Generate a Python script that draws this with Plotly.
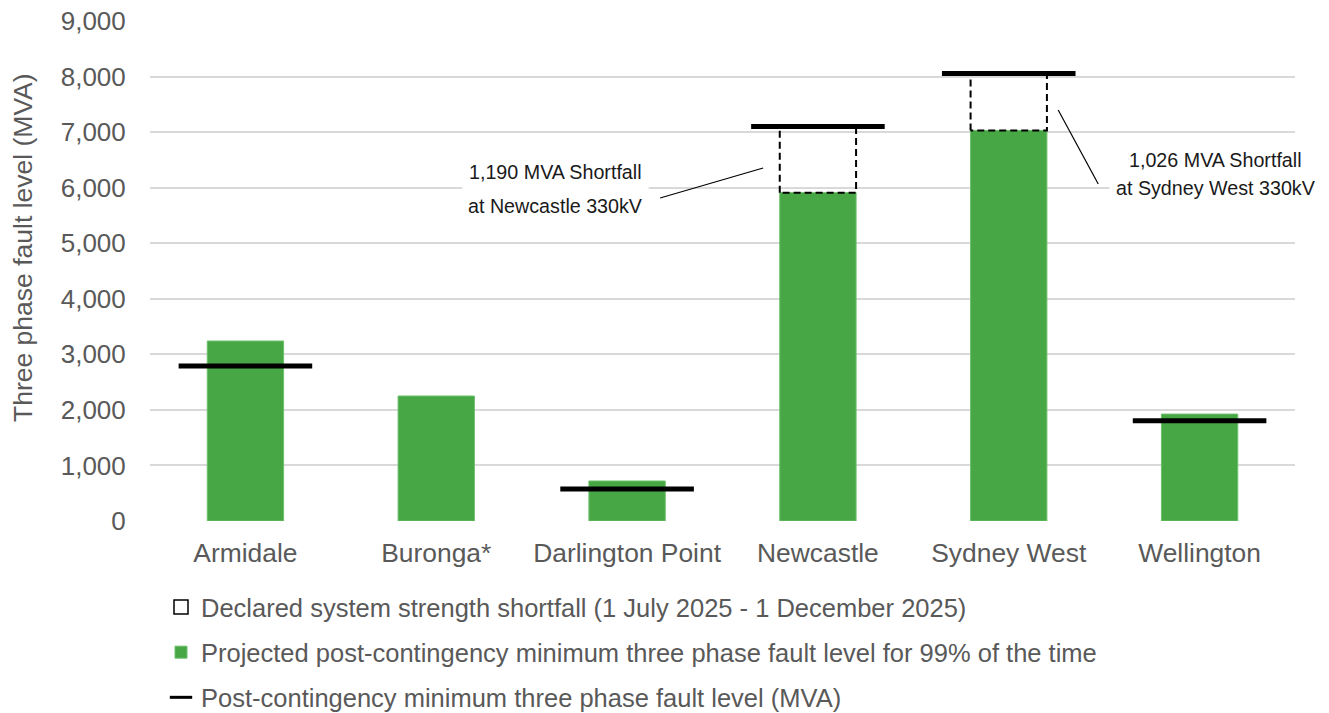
import plotly.graph_objects as go

# Sites and fault levels (MVA)
categories = ["Armidale", "Buronga*", "Darlington Point", "Newcastle", "Sydney West", "Wellington"]
projected_99 = [3240, 2250, 720, 5910, 7030, 1925]
post_contingency_min = [2790, None, 575, 7100, 8056, 1805]
shortfall = [None, None, None, 1190, 1026, None]

callouts = [
    # (site index, line 1, line 2)
    (3, "1,190 MVA Shortfall", "at Newcastle 330kV"),
    (4, "1,026 MVA Shortfall", "at Sydney West 330kV"),
]

y_title = "Three phase fault level (MVA)"

GREEN = "#47a745"
GREY_TEXT = "#595959"
GRID = "#d9d9d9"
FONT = "Arial, Liberation Sans, sans-serif"

BAR_W = 0.4
LINE_HALF = 0.35

xs = list(range(len(categories)))

fig = go.Figure()

# Projected post-contingency minimum fault level bars
fig.add_trace(go.Bar(
    x=xs, y=projected_99, width=BAR_W,
    marker=dict(color=GREEN, line=dict(color="#6cc06a", width=1)),
    name="Projected post-contingency minimum three phase fault level for 99% of the time",
    legendrank=2, legendgroup="g2",
))

# Dashed outline of the declared shortfall above each affected bar
box_x, box_y = [], []
for i, (b, s) in enumerate(zip(projected_99, shortfall)):
    if s is None:
        continue
    top = b + s
    box_x += [i - BAR_W / 2, i - BAR_W / 2, i + BAR_W / 2, i + BAR_W / 2, i - BAR_W / 2, None]
    box_y += [b, top, top, b, b, None]
fig.add_trace(go.Scatter(
    x=box_x, y=box_y, mode="lines",
    line=dict(color="black", width=2, dash="7px,4px"),
    showlegend=False, hoverinfo="skip",
))
fig.add_trace(go.Scatter(
    x=[None], y=[None], mode="markers",
    marker=dict(symbol="square-open", size=14, color="black", line=dict(width=1.5)),
    name="Declared system strength shortfall (1 July 2025 - 1 December 2025)",
    legendrank=1, legendgroup="g1",
))

# Post-contingency minimum fault level markers
seg_x, seg_y = [], []
for i, v in enumerate(post_contingency_min):
    if v is None:
        continue
    seg_x += [i - LINE_HALF, i + LINE_HALF, None]
    seg_y += [v, v, None]
fig.add_trace(go.Scatter(
    x=seg_x, y=seg_y, mode="lines",
    line=dict(color="black", width=5),
    showlegend=False, hoverinfo="skip",
))
fig.add_trace(go.Scatter(
    x=[None], y=[None], mode="markers",
    marker=dict(symbol="line-ew", size=20, color="black", line=dict(width=3, color="black")),
    name="Post-contingency minimum three phase fault level (MVA)",
    legendrank=3, legendgroup="g3",
))

# Callout leader lines and labels
leaders = {
    3: ((2.173, 5814), (2.713, 6354)),
    4: ((4.259, 7398), (4.469, 6066)),
}
label_pos = {
    3: (1.623, 6287, 5670),
    4: (5.084, 6498, 5990),
}
for idx, l1, l2 in callouts:
    (x0, y0), (x1, y1) = leaders[idx]
    fig.add_shape(type="line", xref="x", yref="y", x0=x0, y0=y0, x1=x1, y1=y1,
                  line=dict(color="black", width=1.2))
    lx, ly1, ly2 = label_pos[idx]
    for txt, ly in ((l1, ly1), (l2, ly2)):
        fig.add_annotation(x=lx, y=ly, xref="x", yref="y", text=txt, showarrow=False,
                           font=dict(family=FONT, size=19.7, color="#1a1a1a"),
                           bgcolor="white", borderpad=6)

# Y-axis title
fig.add_annotation(x=-0.1105, y=0.547, xref="paper", yref="paper", text=y_title,
                   textangle=-90, showarrow=False, xanchor="center", yanchor="middle",
                   font=dict(family=FONT, size=26.5, color=GREY_TEXT))

fig.update_layout(
    width=1329, height=713,
    margin=dict(l=150, r=34, t=21, b=192, autoexpand=False),
    paper_bgcolor="white", plot_bgcolor="white",
    font=dict(family=FONT, color=GREY_TEXT, size=24),
    showlegend=True,
    legend=dict(
        x=161 / 1329, xref="container", y=0.181, yref="container",
        xanchor="left", yanchor="top",
        orientation="v", font=dict(size=25.5, color=GREY_TEXT),
        tracegroupgap=9, itemwidth=30, bgcolor="rgba(0,0,0,0)",
    ),
    bargap=0.6,
)
fig.update_xaxes(
    range=[-0.5, len(categories) - 0.5],
    tickmode="array", tickvals=xs, ticktext=categories,
    showgrid=False, zeroline=False, showline=False, automargin=False,
    ticks="outside", ticklen=8, tickcolor="rgba(0,0,0,0)",
    tickfont=dict(size=26.4, color=GREY_TEXT),
)
fig.update_yaxes(
    range=[0, 9000], dtick=1000, tickformat=",",
    showgrid=True, gridcolor=GRID, gridwidth=1.5,
    zeroline=False, showline=False, automargin=False,
    ticks="outside", ticklen=18, tickcolor="rgba(0,0,0,0)",
    tickfont=dict(size=26, color=GREY_TEXT),
)

fig.write_html("out.html")
